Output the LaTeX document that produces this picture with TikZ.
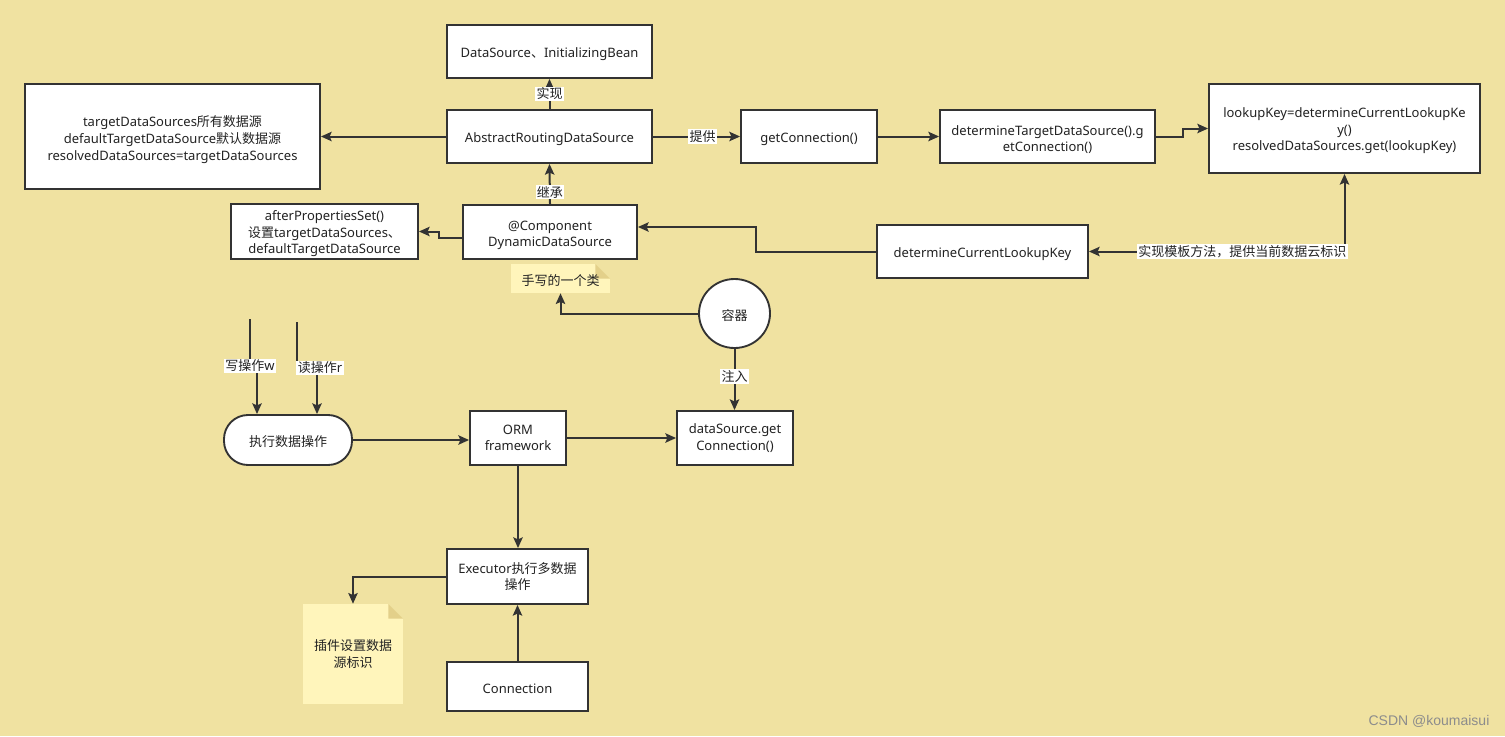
\documentclass[tikz,border=0pt]{standalone}
\usepackage{fontspec}
\setmainfont{Noto Sans}
\newfontfamily\cjkfont{Noto Sans CJK SC}
\newfontfamily\latfont{Noto Sans}
\newfontfamily\wmfont{Liberation Sans}
\usetikzlibrary{arrows.meta,shapes.geometric}

\XeTeXinterchartokenstate=1
\newXeTeXintercharclass\cjkclass
\makeatletter
\count@="3000
\loop \XeTeXcharclass\count@=\cjkclass \advance\count@ 1 \ifnum\count@<"3040 \repeat
\count@="4E00
\loop \XeTeXcharclass\count@=\cjkclass \advance\count@ 1 \ifnum\count@<"A000 \repeat
\count@="FF00
\loop \XeTeXcharclass\count@=\cjkclass \advance\count@ 1 \ifnum\count@<"FFF0 \repeat
\makeatother
\XeTeXinterchartoks 0 \cjkclass = {\cjkfont}
\XeTeXinterchartoks 4095 \cjkclass = {\cjkfont}
\XeTeXinterchartoks \cjkclass 0 = {\latfont}

\definecolor{bg}{HTML}{F0E2A1}
\definecolor{notef}{HTML}{FFF5BB}
\definecolor{foldc}{HTML}{E3D08A}
\definecolor{ln}{HTML}{333333}
\definecolor{txt}{HTML}{222222}
\newcommand\dfont{\fontsize{9.75pt}{12.5pt}\selectfont}

\tikzset{
  lift/.style={execute at begin node={\rule{0pt}{#1}}},
  box/.style={draw=ln, line width=1.4pt, fill=white, align=center, inner sep=2pt, font=\dfont, text=txt, lift=11pt},
  arr/.style={draw=ln, line width=1.5pt, -{Stealth[length=8pt,width=7pt,inset=1.5pt]}},
  barr/.style={draw=ln, line width=1.5pt, {Stealth[length=8pt,width=7pt,inset=1.5pt]}-{Stealth[length=8pt,width=7pt,inset=1.5pt]}},
  lbl/.style={fill=white, inner sep=1pt, font=\dfont, text=txt},
  note/.style={fill=notef, inner sep=0pt, align=center, font=\dfont, text=txt, lift=11pt,
    path picture={
      \fill[bg] ([xshift=-11pt]path picture bounding box.north east) -- (path picture bounding box.north east) -- ([yshift=-11pt]path picture bounding box.north east) -- cycle;
      \fill[foldc] ([xshift=-11pt]path picture bounding box.north east) -- ([xshift=-11pt,yshift=-11pt]path picture bounding box.north east) -- ([yshift=-11pt]path picture bounding box.north east) -- cycle;
    }}
}

\begin{document}
\begin{tikzpicture}[x=0.75pt,y=-0.75pt]
\path[use as bounding box, fill=bg] (0,0) rectangle (1505,736);

% nodes
\node[box, minimum width=153.75pt, minimum height=39.75pt] (dsib) at (549.5,51.5) {DataSource、InitializingBean};
\node[box, lift=38pt, minimum width=221.25pt, minimum height=78.75pt] (tds) at (172.5,136.5) {targetDataSources所有数据源\\defaultTargetDataSource默认数据源\\resolvedDataSources=targetDataSources};
\node[box, minimum width=153.75pt, minimum height=39.75pt] (ards) at (549.5,136.5) {AbstractRoutingDataSource};
\node[box, minimum width=102pt, minimum height=39.75pt] (gc) at (809,136.5) {getConnection()};
\node[box, lift=24.5pt, minimum width=161.25pt, minimum height=39.75pt] (dtds) at (1047.5,136.5) {determineTargetDataSource().g\\etConnection()};
\node[box, lift=36pt, minimum width=203.25pt, minimum height=66.75pt] (lk) at (1344.5,128.5) {lookupKey=determineCurrentLookupKe\\y()\\resolvedDataSources.get(lookupKey)};
\node[box, lift=36pt, inner sep=1pt, minimum width=140.25pt, minimum height=41.25pt] (aps) at (324.5,231.5) {afterPropertiesSet()\\设置targetDataSources、\\defaultTargetDataSource};
\node[box, lift=24.5pt, minimum width=130.5pt, minimum height=40.5pt] (dds) at (550,232) {@Component\\DynamicDataSource};
\node[box, minimum width=158.25pt, minimum height=39.75pt] (dclk) at (982.5,251.5) {determineCurrentLookupKey};
\node[note, minimum width=74.25pt, minimum height=21.75pt] (note1) at (560.5,278.5) {手写的一个类};
\node[box, ellipse, inner sep=0pt, minimum width=53.25pt, minimum height=51.75pt] (ctr) at (734.5,313.5) {容器};
\node[box, rounded corners=18pt, minimum width=96pt, minimum height=37.5pt] (exec) at (288,440) {执行数据操作};
\node[box, minimum width=72pt, minimum height=40.5pt] (orm) at (518,438) {ORM\\framework};
\node[box, minimum width=87pt, minimum height=40.5pt] (dsgc) at (735,438) {dataSource.get\\Connection()};
\node[box, minimum width=105.75pt, minimum height=41.25pt] (ex) at (517.5,576.5) {Executor执行多数据\\操作};
\node[note, minimum width=75pt, minimum height=75pt] (note2) at (353,654) {插件设置数据\\源标识};
\node[box, minimum width=105.75pt, minimum height=36.75pt] (conn) at (517.5,686.5) {Connection};
\node[font=\wmfont\fontsize{10.5pt}{12pt}\selectfont, text=black!45] (wm) at (1429,721) {CSDN @koumaisui};

% free ends
\coordinate (w0) at (250,319);
\coordinate (w1) at (257,366);
\coordinate (r0) at (297,322);
\coordinate (r1) at (317,368);

% connectors
\draw[arr] (ards.north) -- node[lbl]{实现} (dsib.south);
\draw[arr] (ards.west) -- (tds.east);
\draw[arr] (ards.east) -- node[lbl, pos=0.57]{提供} (gc.west);
\draw[arr] (gc.east) -- (dtds.west);
\draw[arr] (dtds.east) -- ++(27,0) |- (lk.west);
\draw[arr] (dds.north) -- node[lbl, pos=0.3]{继承} (ards.south);
\draw[arr] ([yshift=-4.5pt]dds.west) -- ++(-23,0) |- (aps.east);
\draw[arr] (dclk.west) -- ++(-120,0) |- ([yshift=3.75pt]dds.east);
\draw[barr] (dclk.east) -| node[lbl, pos=0.3]{实现模板方法，提供当前数据云标识} (lk.south);
\draw[arr] (ctr.west) -| (note1.south);
\draw[arr] (ctr.south) -- node[lbl, pos=0.45]{注入} (ctr.south |- dsgc.north);
\draw[arr] (w0) |- node[lbl, pos=0.5]{写操作w} (w1) -- (w1 |- exec.north);
\draw[arr] (r0) |- (r1) -- (r1 |- exec.north);
\node[lbl] (rl) at (320,368) {读操作r};
\draw[arr] (exec.east) -- (exec.east -| orm.west);
\draw[arr] (orm.east) -- (dsgc.west);
\draw[arr] (orm.south) -- (orm.south |- ex.north);
\draw[arr] (conn.north) -- (ex.south);
\draw[arr] (ex.west) -| (note2.north);
\end{tikzpicture}
\end{document}
